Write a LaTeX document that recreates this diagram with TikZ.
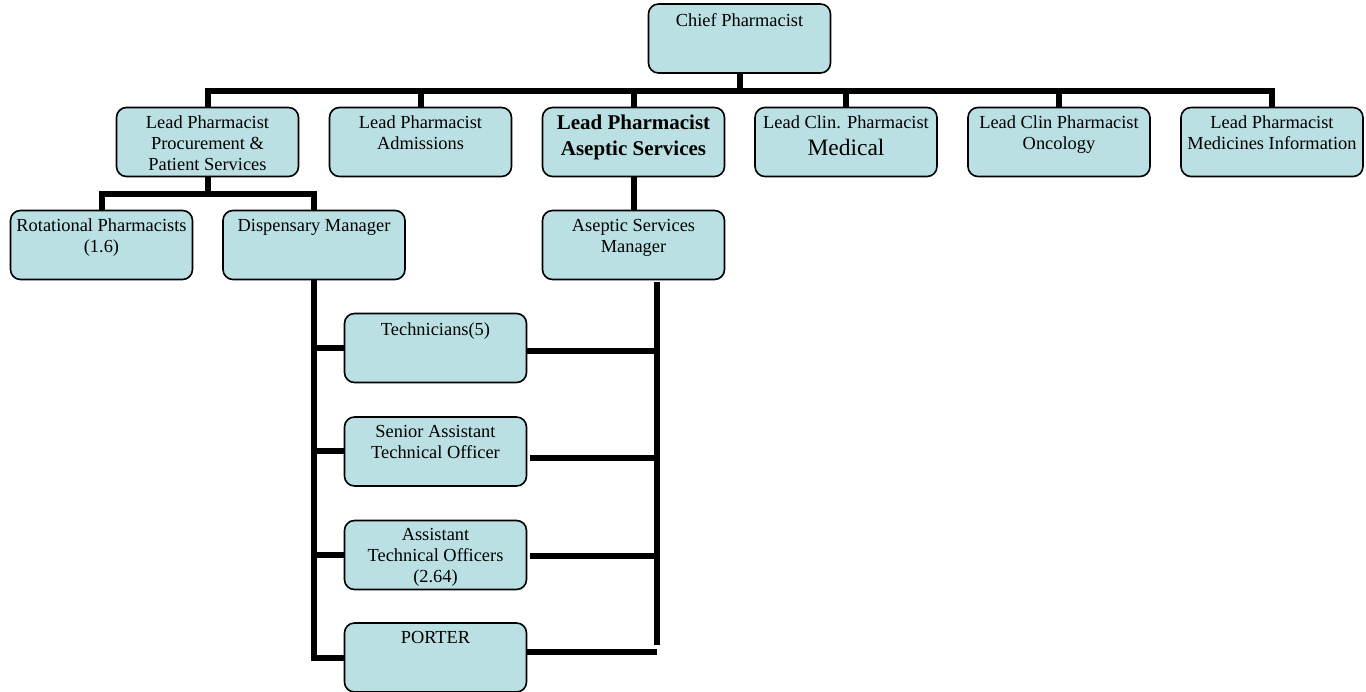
\documentclass[tikz,border=0pt]{standalone}
\usepackage{fontspec}
\setmainfont{Liberation Serif}
\definecolor{boxfill}{RGB}{186,224,228}
\begin{document}
\begin{tikzpicture}[x=1pt,y=-1pt,
  box/.style={draw=black, line width=1.6pt, fill=boxfill, rounded corners=10pt,
              minimum width=182pt, minimum height=69pt, inner sep=0pt},
  txt/.style={anchor=north, inner sep=0pt, align=center, font=\fontsize{18.4}{21}\selectfont},
  boldtxt/.style={txt, font=\bfseries\fontsize{21}{26}\selectfont},
  conn/.style={line width=6pt, line join=miter, draw=black}]
\useasboundingbox (0,0) rectangle (1366,692);

% boxes
\node[box] (chief)  at (739.5,38.5) {};
\node[box] (proc)   at (207.5,142) {};
\node[box] (adm)    at (420.5,142) {};
\node[box] (asep)   at (633.5,142) {};
\node[box] (med)    at (846,142) {};
\node[box] (onc)    at (1059,142) {};
\node[box] (mi)     at (1272,142) {};
\node[box] (rot)    at (101.5,245) {};
\node[box] (disp)   at (314,245) {};
\node[box] (asepm)  at (633.5,245) {};
\node[box] (tech)   at (435.5,348) {};
\node[box] (senior) at (435.5,451.5) {};
\node[box] (asst)   at (435.5,555) {};
\node[box] (porter) at (435.5,657.5) {};

% texts
\node[txt] (chiefT)  at ([yshift=-10pt]chief.north)  {Chief Pharmacist};
\node[txt] (procT)   at ([yshift=-9pt]proc.north)    {Lead Pharmacist\\Procurement \&\\Patient Services};
\node[txt] (admT)    at ([yshift=-9pt]adm.north)     {Lead Pharmacist\\Admissions};
\node[boldtxt] (asepT) at ([yshift=-8pt]asep.north)  {Lead Pharmacist\\Aseptic Services};
\node[txt] (medT)    at ([yshift=-9pt]med.north)     {Lead Clin. Pharmacist\\[6pt]{\fontsize{23.5}{27}\selectfont Medical}};
\node[txt] (oncT)    at ([yshift=-9pt]onc.north)     {Lead Clin Pharmacist\\Oncology};
\node[txt] (miT)     at ([yshift=-9pt]mi.north)      {Lead Pharmacist\\Medicines Information};
\node[txt] (rotT)    at ([yshift=-9pt]rot.north)     {Rotational Pharmacists\\(1.6)};
\node[txt] (dispT)   at ([yshift=-9pt]disp.north)    {Dispensary Manager};
\node[txt] (asepmT)  at ([yshift=-9pt]asepm.north)   {Aseptic Services\\Manager};
\node[txt] (techT)   at ([yshift=-10pt]tech.north)   {Technicians(5)};
\node[txt] (seniorT) at ([yshift=-9pt]senior.north)  {Senior Assistant\\Technical Officer};
\node[txt] (asstT)   at ([yshift=-8pt]asst.north)    {Assistant\\Technical Officers\\(2.64)};
\node[txt] (porterT) at ([yshift=-9pt]porter.north)  {PORTER};

% top level connectors
\coordinate (bar) at (0,91);
\draw[conn] (proc.north) -- (proc.north |- bar) -- (mi.north |- bar) -- (mi.north);
\draw[conn] (chief.south) -- (chief.south |- bar);
\foreach \n in {adm,asep,med,onc} \draw[conn] (\n.north) -- (\n.north |- bar);

% second level
\coordinate (sub) at (0,194);
\draw[conn] (rot.north) -- (rot.north |- sub) -- (disp.north |- sub) -- (disp.north);
\draw[conn] (proc.south) -- (proc.south |- sub);
\draw[conn] (asep.south) -- (asepm.north);

% left spine from dispensary manager
\draw[conn] (disp.south) -- (disp.south |- porter.west) -- (porter.west);
\foreach \n in {tech,senior,asst} \draw[conn] (\n.west) -- (disp.south |- \n.west);

% right spine from aseptic services manager
\coordinate (rtop) at (657,282);
\coordinate (rbot) at (657,645);
\draw[conn] (rtop) -- (rbot);
\coordinate (te) at ([yshift=-3pt]tech.east);
\coordinate (se) at ([xshift=3pt,yshift=-6.5pt]senior.east);
\coordinate (ae) at ([xshift=3pt,yshift=-1pt]asst.east);
\coordinate (pe) at ([yshift=5.5pt]porter.east);
\foreach \c in {te,se,ae,pe} \draw[conn] (\c) -- (\c -| rtop);
\end{tikzpicture}
\end{document}
